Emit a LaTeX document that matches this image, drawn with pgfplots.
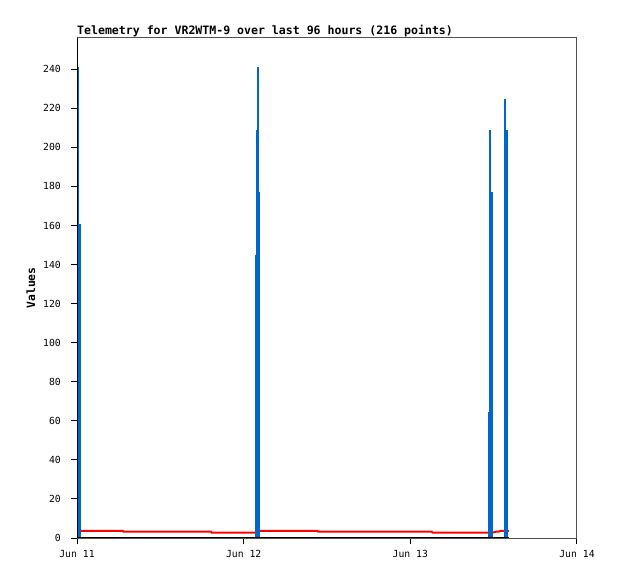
\documentclass[border=0pt]{standalone}
\usepackage{pgfplots}
\pgfplotsset{compat=1.18}
\usepackage{fontspec}
\setmainfont{DejaVu Sans Mono}
\definecolor{tblue}{HTML}{0066CC}
\definecolor{framegray}{HTML}{505050}
\begin{document}
\begin{tikzpicture}
\useasboundingbox (0,0) rectangle (618bp,579bp);
\begin{axis}[
  at={(77bp,41bp)}, anchor=south west,
  width=500bp, height=500bp, scale only axis,
  xmin=0, xmax=72, ymin=0, ymax=256,
  xtick={0,24,48,72}, xticklabels={Jun 11,Jun 12,Jun 13,Jun 14},
  ytick={0,20,...,240},
  /pgf/number format/assume math mode=true,
  tick pos=left,
  tick align=outside,
  major tick length=6bp,
  tick style={black, line width=1bp},
  axis line style={draw=framegray, line width=1bp},
  xticklabel style={font=\fontsize{9.8}{10}\selectfont, inner sep=0pt, yshift=-6bp},
  yticklabel style={font=\fontsize{9.8}{10}\selectfont, inner sep=0pt, xshift=-10bp},
  title={Telemetry for VR2WTM-9 over last 96 hours (216 points)},
  every axis title/.style={at={(rel axis cs:0,1)}, anchor=base west, inner sep=0pt, yshift=3bp, font=\bfseries\fontsize{11.6}{12}\selectfont},
  ylabel={Values},
  every axis y label/.style={at={(rel axis cs:0,0.5)}, xshift=-46bp, rotate=90, anchor=center, font=\bfseries\fontsize{11.4}{12}\selectfont},
]
\addplot[red, line width=2bp, line join=miter] coordinates {
 (0.5,3.7) (6.6,3.7) (6.7,3.2) (19.3,3.2) (19.4,2.7) (25.7,2.7)
 (26.2,3.7) (34.6,3.7) (34.7,3.2) (51.1,3.2) (51.2,2.7) (59.2,2.7)
 (60.0,2.9) (60.3,3.2) (60.7,3.2) (61.0,3.7) (62.2,3.7)};
\addplot[ycomb, draw=tblue, line width=2bp, mark=none] coordinates {
 (0.0,225) (0.17,241) (0.36,160.7) (0.48,160.7)
 (25.78,144.8) (25.87,208.8) (26.09,241) (26.25,177)
 (59.28,64.6) (59.47,208.8) (59.68,177) (59.76,177)
 (61.6,225) (61.9,208.8)};
\addplot[black, line width=2bp] coordinates {(0,0) (62.2,0)};
\draw[black, line width=1bp] (rel axis cs:0,1) -- (rel axis cs:0,0) -- (rel axis cs:1,0);
\end{axis}
\end{tikzpicture}
\end{document}
